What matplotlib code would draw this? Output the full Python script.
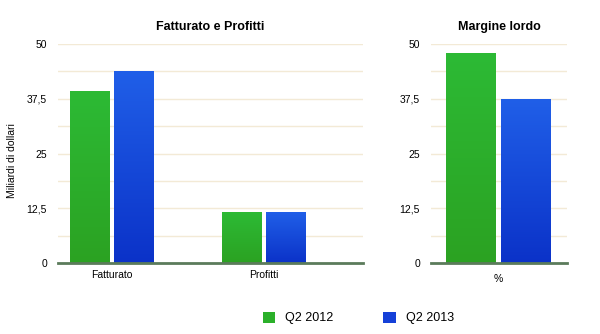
import matplotlib.pyplot as plt
import matplotlib.colors as mcolors
from matplotlib.patches import Patch
import numpy as np

plt.rcParams['font.family'] = ['Liberation Sans', 'DejaVu Sans']

# Data
categories = ['Fatturato', 'Profitti']
q2_2012 = [39.2, 11.6]
q2_2013 = [43.8, 11.6]

margin_label = ['%']
margin_2012 = [47.9]
margin_2013 = [37.4]

series_names = ['Q2 2012', 'Q2 2013']
yticks = [0, 12.5, 25, 37.5, 50]
ytick_labels = ['0', '12,5', '25', '37,5', '50']

green_top, green_bot = '#2dba35', '#2ba222'
blue_top, blue_bot = '#205fe8', '#0b32c8'


def gradient_bars(ax, bars, top, bot):
    cmap = mcolors.LinearSegmentedColormap.from_list('g', [bot, top])
    grad = np.linspace(0, 1, 256).reshape(-1, 1)
    for b in bars:
        x, y = b.get_x(), b.get_y()
        w, h = b.get_width(), b.get_height()
        b.set_facecolor(top)
        im = ax.imshow(grad, cmap=cmap, origin='lower', aspect='auto',
                       extent=[x, x + w, y, y + h], zorder=3)
        im.set_clip_path(b)


def style_axis(ax, title):
    ax.set_ylim(0, 50)
    ax.set_yticks(yticks)
    ax.set_yticklabels(ytick_labels, fontsize=7.5)
    for v in np.arange(6.25, 50.1, 6.25):
        ax.axhline(v, color='#f3ead6', lw=1, zorder=0)
    for s in ['top', 'right', 'left']:
        ax.spines[s].set_visible(False)
    ax.spines['bottom'].set_color('#5b7b5b')
    ax.spines['bottom'].set_linewidth(2)
    ax.spines['bottom'].set_zorder(5)
    ax.tick_params(length=0)
    ax.tick_params(axis='y', pad=8)
    ax.set_title(title, fontsize=9, fontweight='bold', pad=10)


fig = plt.figure(figsize=(6, 3.34), dpi=100)

# Left chart
ax1 = fig.add_axes([58 / 600, 1 - 263 / 334, 305 / 600, 219 / 334])
x = np.arange(len(categories))
w = 0.263
g = 0.013
b1 = ax1.bar(x - w / 2 - g, q2_2012, w, zorder=2)
b2 = ax1.bar(x + w / 2 + g, q2_2013, w, zorder=2)
gradient_bars(ax1, b1, green_top, green_bot)
gradient_bars(ax1, b2, blue_top, blue_bot)
ax1.set_xlim(-0.355, 1.651)
ax1.set_xticks(x)
ax1.set_xticklabels(categories, fontsize=7.5)
ax1.tick_params(axis='x', pad=5)
style_axis(ax1, 'Fatturato e Profitti')
ax1.set_ylabel('Miliardi di dollari', fontsize=7.5)
ax1.yaxis.set_label_coords(-0.134, 0.47)

# Right chart
ax2 = fig.add_axes([431 / 600, 1 - 263 / 334, 136 / 600, 219 / 334])
xm = np.arange(len(margin_label))
wm = 0.3
gm = 0.015
c1 = ax2.bar(xm - wm / 2 - gm, margin_2012, wm, zorder=2)
c2 = ax2.bar(xm + wm / 2 + gm, margin_2013, wm, zorder=2)
gradient_bars(ax2, c1, green_top, green_bot)
gradient_bars(ax2, c2, blue_top, blue_bot)
ax2.set_xlim(-0.405, 0.411)
ax2.set_xticks(xm)
ax2.set_xticklabels(margin_label, fontsize=7.5)
ax2.tick_params(axis='x', pad=8)
style_axis(ax2, 'Margine lordo')

handles = [Patch(facecolor='#2bb02a', edgecolor='none'),
           Patch(facecolor='#1540d8', edgecolor='none')]
fig.legend(handles, series_names, loc='center', bbox_to_anchor=(0.597, 1 - 318 / 334),
           ncol=2, frameon=False, fontsize=9, handlelength=1.0, handleheight=1.0,
           handletextpad=0.8, columnspacing=4.0)

fig.savefig('out.png', dpi=100)
